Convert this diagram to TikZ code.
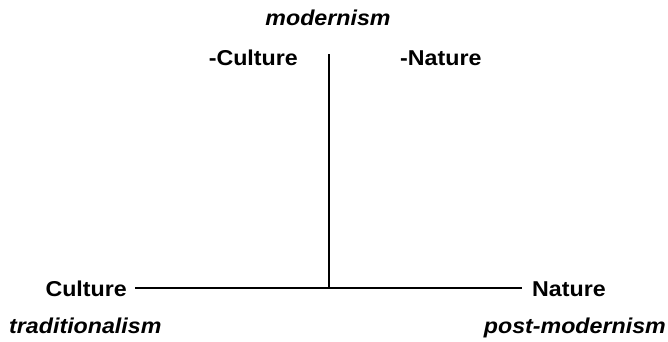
\documentclass[tikz,border=0pt]{standalone}
\usepackage{fontspec}
\newfontfamily\diagfont{Liberation Sans}[FakeStretch=1.08]
\usepackage{tikz}
\usetikzlibrary{positioning}

\begin{document}
\begin{tikzpicture}[
    x=1pt, y=-1pt,
    term/.style={inner sep=0pt, font=\diagfont\bfseries\fontsize{21.5}{25}\selectfont},
    pole/.style={term, font=\diagfont\bfseries\itshape\fontsize{21.5}{25}\selectfont, anchor=base},
    axis/.style={line width=1.3pt},
]
\useasboundingbox (0,0) rectangle (668,341);

% axis ends
\coordinate (top) at (329,54);
\coordinate (centre) at (329,288);

% terms
\node[term, anchor=base east] (culture) at (127,296) {Culture};
\node[term, anchor=base west] (nature) at (532,296) {Nature};
\node[term, anchor=base east] (negculture) at (298,65) {-Culture};
\node[term, anchor=base west] (negnature) at (400,65) {-Nature};

% poles
\node[pole] (modern) at (328,25) {modernism};
\node[pole, anchor=base west] (trad) at (9,333) {traditionalism};
\node[pole, anchor=base east] (postmodern) at (666,333) {post-modernism};

% axes
\draw[axis] ([xshift=8pt]culture.east |- centre) -- ([xshift=-10pt]nature.west |- centre);
\draw[axis] (top) -- (centre);

\end{tikzpicture}
\end{document}
